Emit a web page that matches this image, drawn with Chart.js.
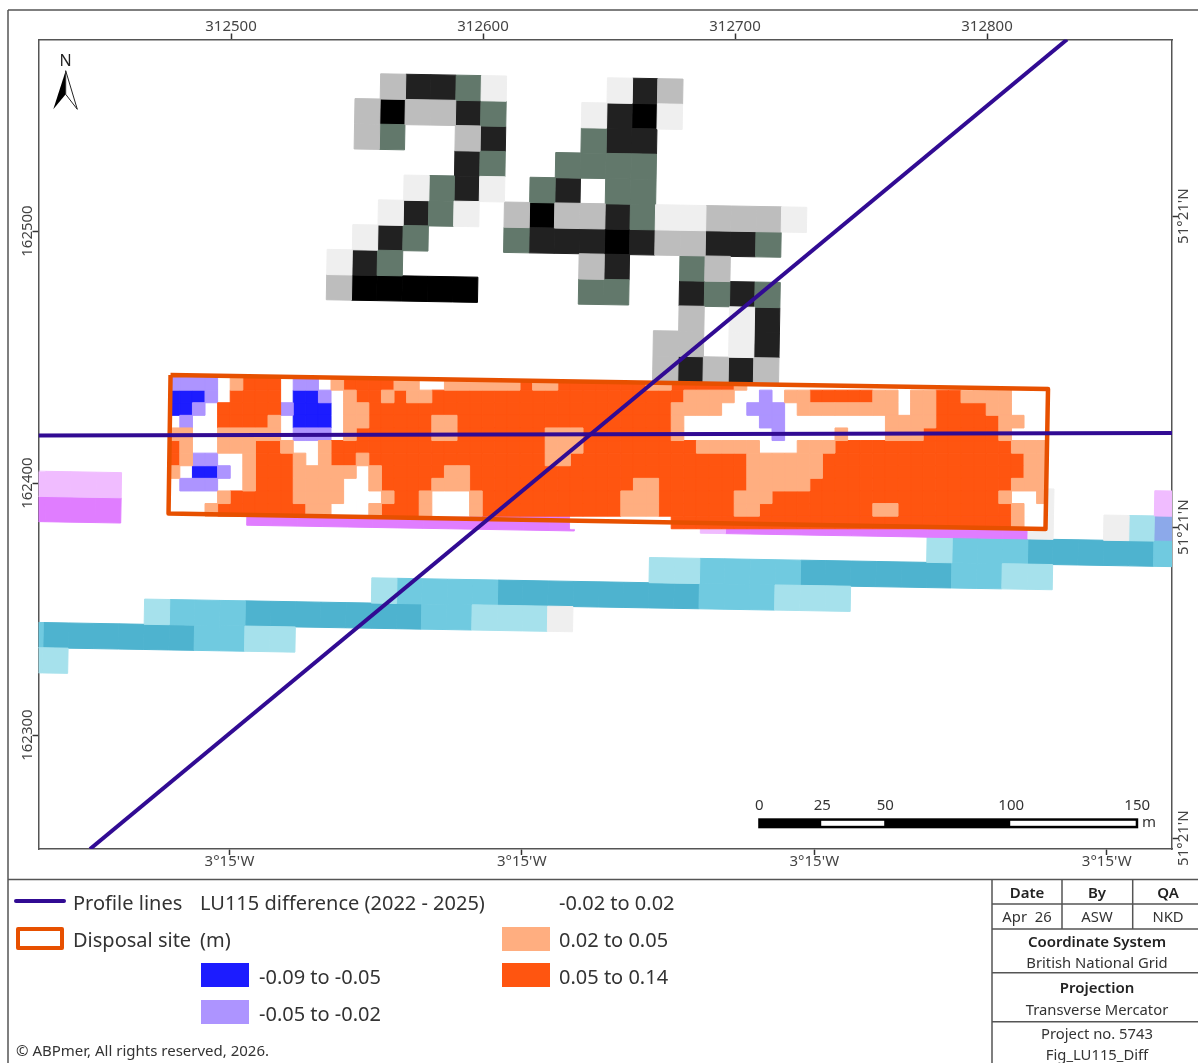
<!DOCTYPE html>
<html>
<head>
<meta charset="utf-8">
<title>LU115 difference</title>
<script src="https://cdn.jsdelivr.net/npm/chart.js@4"></script>
<style>
  html, body { margin: 0; padding: 0; background: #fff; }
  canvas { display: block; }
</style>
</head>
<body>
<canvas id="mapChart" width="1198" height="1063"></canvas>
<script>
const FONT = '"Noto Sans", "Open Sans", sans-serif';

// map extent, British National Grid metres
const xRange = [312423.6, 312873.4];
const yRange = [162254.8, 162576.0];

const eastingTicks = [312500, 312600, 312700, 312800];
const northingTicks = [162500, 162400, 162300];
const lonTicks = [312499.4, 312615.4, 312731.5, 312847.5];
const latTicks = [162505.9, 162382.5, 162259.1];
const lonLabel = "3°15'W";
const latLabel = "51°21'N";

// the 10 m raster (slightly rotated), one character per cell
const coarseOrigin = [312419.37, 162564.84];
const coarseRows = [
  '............ ..bkkga....akb',
  '............ .bKbbkg...akKa',
  '............ .bg..bk...gkk',
  '............ .....kg..gggg',
  '............ ...agka.gk.gg',
  '............ ..akga.bKbbkgaabbba',
  '............ .akg...gkkkKkbbkkg',
  '............ akg.......bk..gb',
  '............ bKKKKK....gg..kgkg',
  '............ ..............b.ak',
  '............ .............bb.ak',
  '............ .............bkbkb',
  '',
  '',
  '',
  '',
  'qqqq....................................a....q',
  'mmmm.....mmmmmmmmmmmmm.....qmmmmmmmmmmmma..atu',
  '....................................tsssddddds',
  '.........................ttssssddddddsstt',
  '..............tssssddddddddsssttt',
  '.....tsssdddddddssttta',
  'sddddddsstt',
  'tt'
];
const coarseColours = {
  a: '#efefef', b: '#bdbdbd', g: '#62786b', k: '#212121', K: '#000000',
  q: '#f0bcff', m: '#e07dff', t: '#a6e1ec', s: '#70cae0',
  d: '#4eb3cf', u: '#8ca9ea'
};

// the 5 m difference raster inside the disposal site
const siteOrigin = [312474.68, 162441.87];
const siteRows = [
  'ppppwlooowppwloooollwwl lllllollooooooolloooool wwwwwwwwwwwwwwwwwwwwwwww',
  'bbbpwoooowbbpwloololloo oooooooooooooooooollllw wpwllooooollwlloollllwww',
  'bbpwooooopbbbwllooooooo ooooooooooooooooollllww pppwllllllllwlloooollwww',
  'wpwwoooolwbbbwlloooooll ooooooooooooooooolwwwww wppwwwwwwwwllllooooollww',
  'llwwlllllwpppwlooooooll ooooooolllooooooolwwwww wwpwwwwlwwwllloooooolwww',
  'olwwllloolwwloooooooooo ooooooolllooooooooollll lwwwllloooooooooooooolll',
  'olppwwlooolwloolooooooo ooooooolloooooooooooooo llllllooooooooooooooooll',
  'lwbbpwlooolllllwloooool loooooooooooooooooooooo llllllooooooooooooooooll',
  'wpppwwlooollllwwlooooll looooooooooooollooooooo llllloooooooooooooooolll',
  'wwwwlooooollllwwwloolww wlooooooooooolllooooool lloooooooooooooooooolwwl',
  'wwwlooooooollwwwlooolww wlooooooooooolllooooool looooooooollooooooooolwww',
  '....................... .........wwwwwwwwoooooo ooooooooooooooooooooolww'
];
// white goes last so it is painted first
const siteColours = {
  l: '#ffae80', o: '#ff5510', p: '#ad94ff', b: '#1c1cff', w: '#ffffff'
};

// profile lines and site outline, map metres
const profileHorizontalX = [312423.6, 312873.4];
const profileHorizontalY = [162418.85, 162419.84];
const profileDiagonalX = [312444.05, 312831.75];
const profileDiagonalY = [162254.8, 162576.0];
const siteOutlineX = [312476.0, 312824.2, 312823.2, 312475.2, 312476.0];
const siteOutlineY = [162442.86, 162437.3, 162381.75, 162387.9, 162442.86];

const scaleBarStart = 312709.2;
const scaleBarTicks = [0, 25, 50, 100, 150];

const lineLegend = ['Profile lines', 'Disposal site'];
const legendTitle = ['LU115 difference (2022 - 2025)', '(m)'];
const classLabels = ['-0.09 to -0.05', '-0.05 to -0.02', '-0.02 to 0.02', '0.02 to 0.05', '0.05 to 0.14'];
const classColours = ['#1c1cff', '#ad94ff', '#ffffff', '#ffae80', '#ff5510'];

const PROFILE = '#310b93';
const SITE = '#e75000';
const RULE = '#555555';

function rowCells(rows, code) {
  const out = [];
  rows.forEach((row, r) => {
    row.replace(/ /g, '').split('').forEach((ch, c) => {
      if (ch === code) out.push([r, c]);
    });
  });
  return out;
}

function cellRadius(metres) {
  return ctx => {
    const x = ctx.chart.scales.x;
    return (metres * x.width / (x.max - x.min)) / Math.SQRT2;
  };
}

const datasets = [];

datasets.push({
  data: profileHorizontalX.map((x, i) => ({ x: x, y: profileHorizontalY[i] })),
  showLine: true, pointRadius: 0, borderColor: PROFILE, borderWidth: 4, order: 0
});
datasets.push({
  data: profileDiagonalX.map((x, i) => ({ x: x, y: profileDiagonalY[i] })),
  showLine: true, pointRadius: 0, borderColor: PROFILE, borderWidth: 4, order: 0
});
datasets.push({
  data: siteOutlineX.map((x, i) => ({ x: x, y: siteOutlineY[i] })),
  showLine: true, pointRadius: 0, borderColor: SITE, borderWidth: 4.5,
  borderJoinStyle: 'round', order: 1
});

Object.keys(siteColours).forEach(code => {
  datasets.push({
    siteRaster: true,
    data: rowCells(siteRows, code).map(([r, c]) => ({
      x: siteOrigin[0] + (c + 0.5) * 5,
      y: siteOrigin[1] - (r + 0.5) * 5
    })),
    pointStyle: 'rect',
    pointRadius: cellRadius(5),
    pointBackgroundColor: siteColours[code],
    pointBorderColor: siteColours[code],
    pointBorderWidth: 1,
    order: 2
  });
});

Object.keys(coarseColours).forEach(code => {
  datasets.push({
    data: rowCells(coarseRows, code).map(([r, c]) => ({
      x: coarseOrigin[0] + (c + 0.5) * 10 - (r + 0.5) * 0.175,
      y: coarseOrigin[1] - (r + 0.5) * 10 - (c + 0.5) * 0.175
    })),
    pointStyle: 'rect',
    pointRotation: 1,
    pointRadius: cellRadius(10),
    pointBackgroundColor: coarseColours[code],
    pointBorderColor: coarseColours[code],
    pointBorderWidth: 1,
    order: 3
  });
});

function fixedTicks(values) {
  return scale => { scale.ticks = values.map(v => ({ value: v })); };
}

function axis(position, range, values, size, label) {
  const horizontal = position === 'top' || position === 'bottom';
  return {
    type: 'linear',
    position: position,
    min: range[0],
    max: range[1],
    afterBuildTicks: fixedTicks(values),
    afterFit: s => { if (horizontal) s.height = size; else s.width = size; },
    border: { display: true, color: RULE, width: 1.5 },
    grid: { drawOnChartArea: false, drawTicks: true, tickLength: 6, tickWidth: 1.5, color: '#333' },
    ticks: {
      display: horizontal,
      autoSkip: false,
      maxRotation: 0,
      minRotation: 0,
      padding: -2,
      color: '#444',
      font: { family: FONT, size: 15 },
      callback: label
    }
  };
}

function text(ctx, str, x, y, font, align, colour) {
  ctx.font = font;
  ctx.textAlign = align || 'left';
  ctx.textBaseline = 'middle';
  ctx.fillStyle = colour || '#333';
  ctx.fillText(str, x, y);
}

function rotatedText(ctx, str, x, y) {
  ctx.save();
  ctx.translate(x, y);
  ctx.rotate(-Math.PI / 2);
  text(ctx, str, 0, 0, '15px ' + FONT, 'center', '#444');
  ctx.restore();
}

function rule(ctx, x1, y1, x2, y2) {
  ctx.beginPath();
  ctx.moveTo(x1, y1);
  ctx.lineTo(x2, y2);
  ctx.stroke();
}

// clip the 5 m raster to the site, open at the bottom
const siteClip = {
  id: 'siteClip',
  beforeDatasetDraw(chart, args) {
    if (!chart.data.datasets[args.index].siteRaster) return;
    const { x, y } = chart.scales;
    const c = chart.ctx;
    c.save();
    c.beginPath();
    c.moveTo(x.getPixelForValue(siteOutlineX[0]), y.getPixelForValue(siteOutlineY[0]));
    c.lineTo(x.getPixelForValue(siteOutlineX[1]), y.getPixelForValue(siteOutlineY[1]));
    c.lineTo(x.getPixelForValue(siteOutlineX[2]), y.getPixelForValue(siteOutlineY[2]));
    c.lineTo(x.getPixelForValue(siteOutlineX[2]), chart.chartArea.bottom);
    c.lineTo(x.getPixelForValue(siteOutlineX[3]), chart.chartArea.bottom);
    c.lineTo(x.getPixelForValue(siteOutlineX[3]), y.getPixelForValue(siteOutlineY[3]));
    c.closePath();
    c.clip();
  },
  afterDatasetDraw(chart, args) {
    if (chart.data.datasets[args.index].siteRaster) chart.ctx.restore();
  }
};

const furniture = {
  id: 'furniture',
  afterDraw(chart) {
    const c = chart.ctx;
    const { x, y, yr } = chart.scales;

    // rotated side labels
    northingTicks.forEach(v => rotatedText(c, String(v), 27.5, y.getPixelForValue(v)));
    latTicks.forEach(v => rotatedText(c, latLabel, 1184, yr.getPixelForValue(v)));

    // north arrow
    text(c, 'N', 65.7, 61, '16px ' + FONT, 'center', '#222');
    c.beginPath();
    c.moveTo(65.7, 70.7); c.lineTo(53.3, 109.3); c.lineTo(65.7, 94.3); c.closePath();
    c.fillStyle = '#000'; c.fill();
    c.beginPath();
    c.moveTo(65.7, 70.7); c.lineTo(77.3, 109.3); c.lineTo(65.7, 94.3); c.closePath();
    c.fillStyle = '#fff'; c.fill();
    c.strokeStyle = '#222'; c.lineWidth = 1; c.stroke();

    // scale bar
    const bar = v => x.getPixelForValue(scaleBarStart + v);
    c.fillStyle = '#000';
    c.fillRect(bar(0), 818.3, bar(150) - bar(0) + 2, 10);
    c.fillStyle = '#fff';
    c.fillRect(bar(25), 820.8, bar(50) - bar(25), 5);
    c.fillRect(bar(100), 820.8, bar(150) - bar(100) - 0.5, 5);
    scaleBarTicks.forEach(v => text(c, String(v), bar(v) + 1, 806, '15px ' + FONT, 'center', '#333'));
    text(c, 'm', 1142, 823, '15px ' + FONT, 'left', '#333');

    // page frame and title block rules
    c.strokeStyle = RULE;
    c.lineWidth = 1.5;
    rule(c, 8, 10, 1198, 10);
    rule(c, 8, 10, 8, 1063);
    rule(c, 8, 879.5, 1198, 879.5);
    rule(c, 992, 879.5, 992, 1063);
    rule(c, 992, 904, 1198, 904);
    rule(c, 992, 929, 1198, 929);
    rule(c, 992, 972.7, 1198, 972.7);
    rule(c, 992, 1021.7, 1198, 1021.7);
    rule(c, 1062, 879.5, 1062, 929);
    rule(c, 1132.7, 879.5, 1132.7, 929);

    const head = '600 15px ' + FONT;
    const body = '14.8px ' + FONT;
    text(c, 'Date', 1027, 894, head, 'center', '#222');
    text(c, 'By', 1097, 894, head, 'center', '#222');
    text(c, 'QA', 1168, 894, head, 'center', '#222');
    text(c, 'Apr  26', 1027, 918, body, 'center');
    text(c, 'ASW', 1097, 918, body, 'center');
    text(c, 'NKD', 1168, 918, body, 'center');
    text(c, 'Coordinate System', 1097, 943, head, 'center', '#222');
    text(c, 'British National Grid', 1097, 964, body, 'center');
    text(c, 'Projection', 1097, 989, head, 'center', '#222');
    text(c, 'Transverse Mercator', 1097, 1011, body, 'center');
    text(c, 'Project no. 5743', 1097, 1035, body, 'center');
    text(c, 'Fig_LU115_Diff', 1097, 1056, body, 'center');

    // legend
    const big = '20px ' + FONT;
    c.strokeStyle = PROFILE;
    c.lineWidth = 4;
    c.lineCap = 'round';
    rule(c, 16, 901, 64, 901);
    c.lineCap = 'butt';
    c.strokeStyle = SITE;
    c.lineJoin = 'round';
    c.lineWidth = 4;
    c.strokeRect(18, 929, 44, 19);
    text(c, lineLegend[0], 73, 904, big);
    text(c, lineLegend[1], 73, 941, big);
    text(c, legendTitle[0], 200, 904, big);
    text(c, legendTitle[1], 200, 941, big);

    const swatches = [[201, 963], [201, 1000], [502, 890], [502, 927], [502, 963]];
    const labelAt = [[259, 978], [259, 1015], [559, 904], [559, 941], [559, 978]];
    classLabels.forEach((label, i) => {
      c.fillStyle = classColours[i];
      c.fillRect(swatches[i][0], swatches[i][1], 48, 24);
      text(c, label, labelAt[i][0], labelAt[i][1], big);
    });
    text(c, '© ABPmer, All rights reserved, 2026.', 16, 1052, '15px ' + FONT);
  }
};

new Chart(document.getElementById('mapChart').getContext('2d'), {
  type: 'scatter',
  data: { datasets: datasets },
  plugins: [siteClip, furniture],
  options: {
    responsive: false,
    animation: false,
    events: [],
    layout: { padding: 0 },
    plugins: { legend: { display: false }, tooltip: { enabled: false } },
    scales: {
      x: axis('top', xRange, eastingTicks, 39.5, v => String(v)),
      xb: axis('bottom', xRange, lonTicks, 214, () => lonLabel),
      y: axis('left', yRange, northingTicks, 38.5),
      yr: axis('right', yRange, latTicks, 26)
    }
  }
});
</script>
</body>
</html>
